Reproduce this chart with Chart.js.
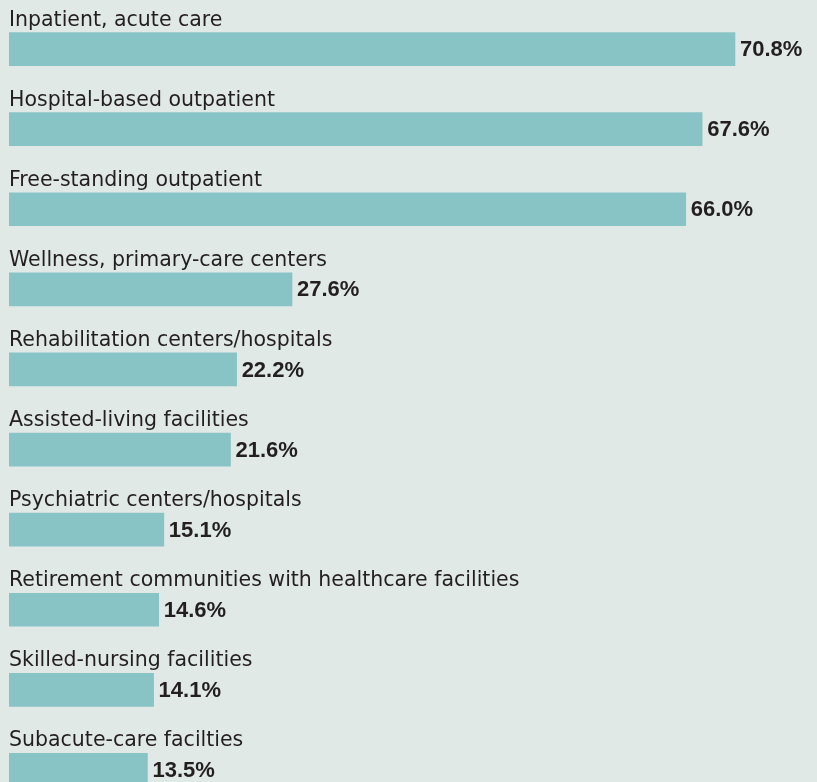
<!DOCTYPE html>
<html>
<head>
<meta charset="utf-8">
<script src="https://cdn.jsdelivr.net/npm/chart.js@4/dist/chart.umd.min.js"></script>
<style>
  html, body { margin: 0; padding: 0; background: #e0e9e6; overflow: hidden; }
  canvas { display: block; }
</style>
</head>
<body>
<canvas id="settingChart" width="817" height="820"></canvas>
<script>
const categories = [
    'Inpatient, acute care',
    'Hospital-based outpatient',
    'Free-standing outpatient',
    'Wellness, primary-care centers',
    'Rehabilitation centers/hospitals',
    'Assisted-living facilities',
    'Psychiatric centers/hospitals',
    'Retirement communities with healthcare facilities',
    'Skilled-nursing facilities',
    'Subacute-care facilties'
];
const shares = [70.8, 67.6, 66.0, 27.6, 22.2, 21.6, 15.1, 14.6, 14.1, 13.5];

// labels above each bar + bold value at the bar end
const barLabels = {
    id: 'barLabels',
    afterDatasetsDraw(chart) {
        const ctx = chart.ctx;
        const bars = chart.getDatasetMeta(0).data;
        ctx.save();
        ctx.fillStyle = '#231f20';
        bars.forEach((bar, i) => {
            const half = bar.height / 2;
            ctx.font = '20.5px "DejaVu Sans", sans-serif';
            ctx.textAlign = 'left';
            ctx.textBaseline = 'alphabetic';
            ctx.fillText(categories[i], chart.chartArea.left, bar.y - half - 7);
            ctx.font = 'bold 22px "Liberation Sans", Arial, sans-serif';
            ctx.textBaseline = 'middle';
            ctx.fillText(shares[i].toFixed(1) + '%', bar.x + 5, bar.y + 1);
        });
        ctx.restore();
    }
};

const ctx = document.getElementById('settingChart').getContext('2d');
const settingChart = new Chart(ctx, {
    type: 'bar',
    data: {
        labels: categories,
        datasets: [{
            data: shares,
            backgroundColor: '#88c3c6',
            borderWidth: 0,
            barThickness: 33
        }]
    },
    options: {
        indexAxis: 'y',
        responsive: false,
        animation: false,
        layout: { padding: { left: 9, right: 0, top: 9, bottom: 10 } },
        scales: {
            x: { display: false, min: 0, max: 78.8 },
            y: { display: false }
        },
        plugins: { legend: { display: false }, tooltip: { enabled: false } }
    },
    plugins: [barLabels]
});
</script>
</body>
</html>
